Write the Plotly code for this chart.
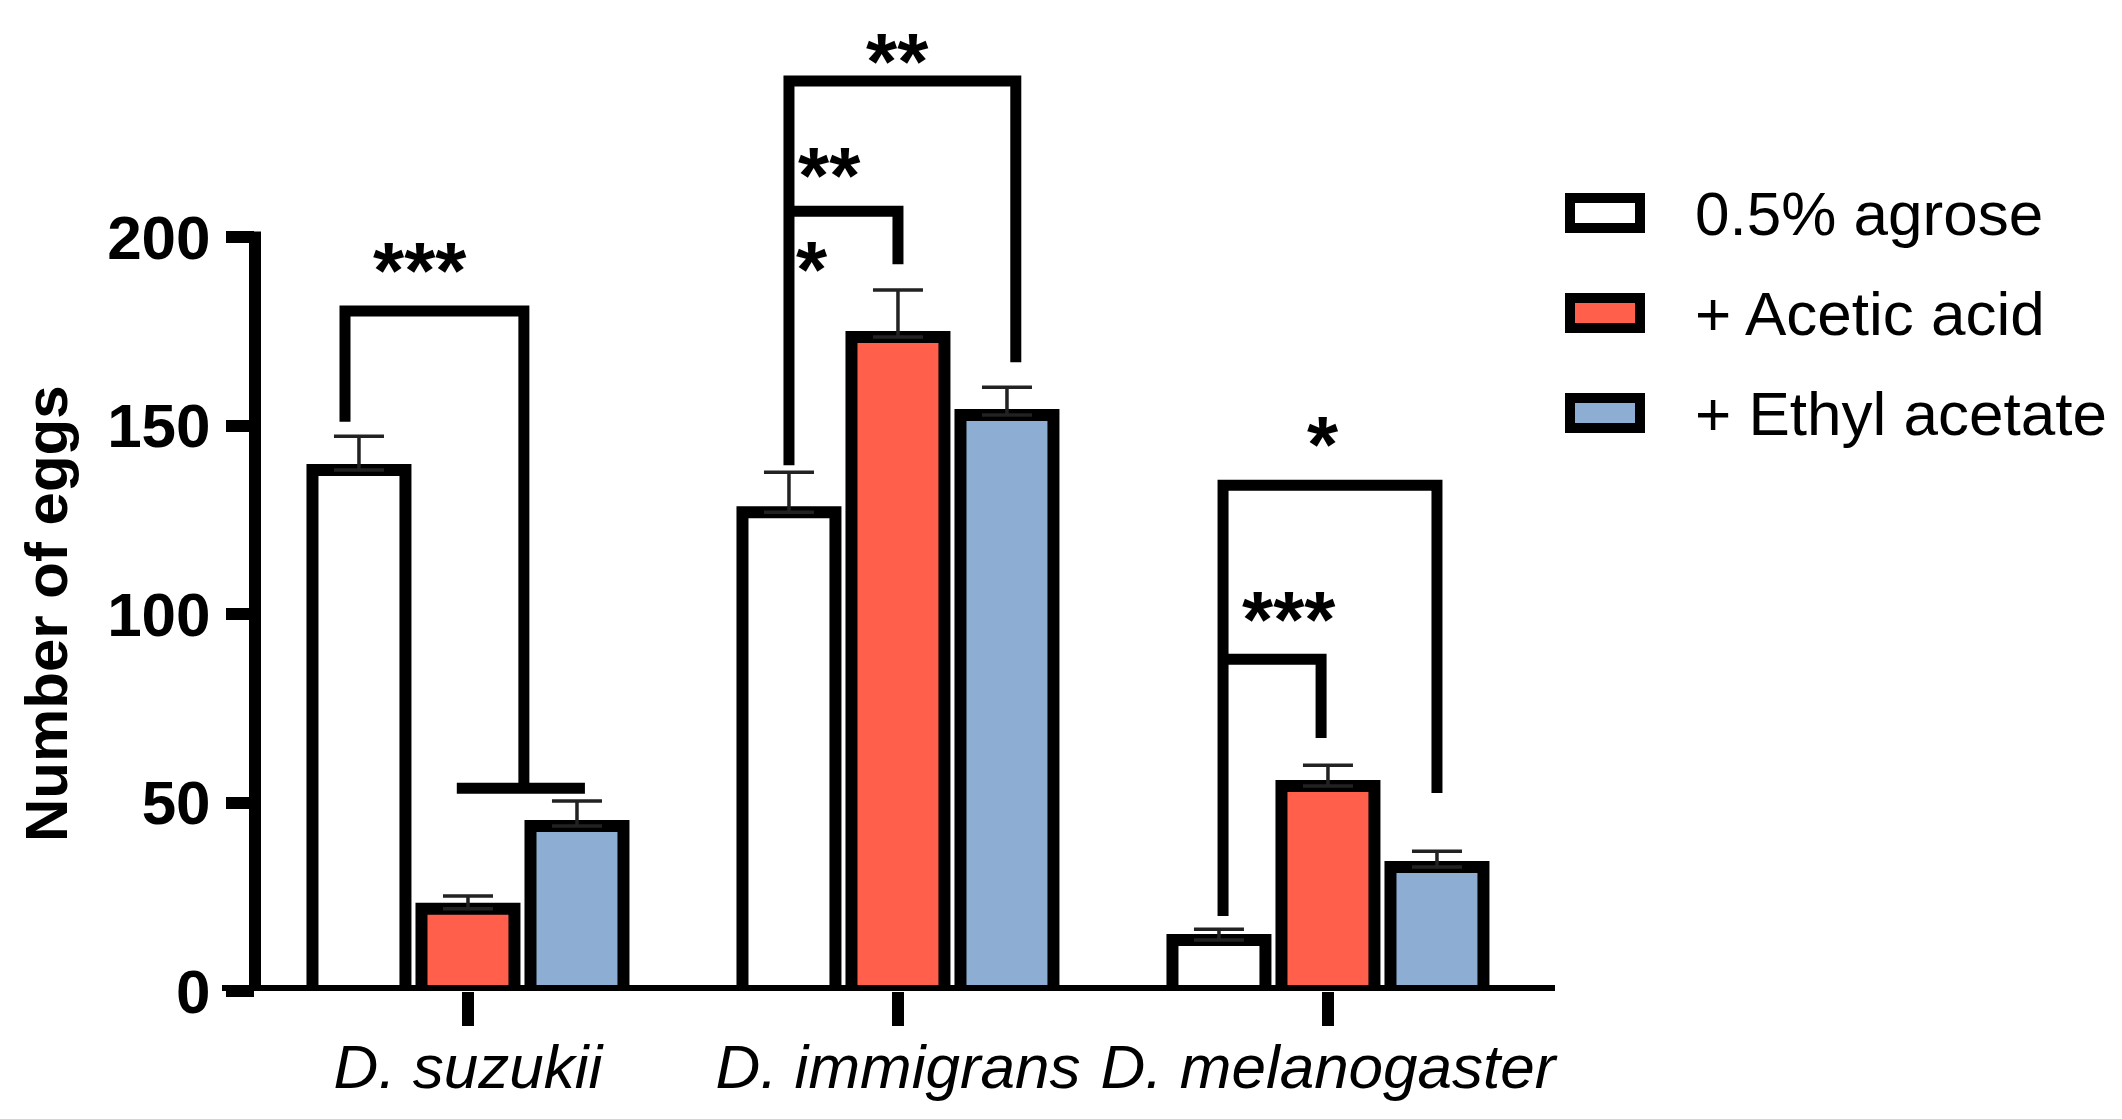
import plotly.graph_objects as go

# Egg counts (mean + SEM) per species and substrate
species = ["D. suzukii", "D. immigrans", "D. melanogaster"]
treatments = ["0.5% agrose", "+ Acetic acid", "+ Ethyl acetate"]
colors = ["#FFFFFF", "#FF5F4B", "#8DADD3"]

agrose = [138.2, 127.0, 13.5]
agrose_sem = [9.0, 10.6, 2.9]
acetic = [21.8, 173.5, 54.4]
acetic_sem = [3.4, 12.5, 5.5]
ethyl = [43.8, 152.8, 32.9]
ethyl_sem = [6.6, 7.4, 4.2]

yticks = [0, 50, 100, 150, 200]

# significance brackets: list of (x, y) vertices in data units, label, label position
brackets = [
    ([(-0.286, 151), (-0.286, 180.4), (0.130, 180.4), (0.130, 53.8)], "***", (-0.112, 193.6)),
    ([(-0.026, 53.8), (0.272, 53.8)], None, None),
    ([(0.7465, 139.5), (0.7465, 241.4), (1.274, 241.4), (1.274, 166.8)], "**", (1.0, 249)),
    ([(0.7465, 206.9), (1.0, 206.9), (1.0, 192.8)], "**", (0.84, 218.8)),
    ([], "*", (0.80, 194)),
    ([(1.756, 19.9), (1.756, 134.2), (2.2535, 134.2), (2.2535, 52.5)], "*", (1.988, 147.5)),
    ([(1.756, 88), (1.984, 88), (1.984, 67.1)], "***", (1.909, 101)),
]

FONT = "Arial, Liberation Sans, sans-serif"
PAGE = 8                      # browser body margin
W, H = 2122 - PAGE, 1119 - PAGE
L0, BOT0 = 255, 991           # plot-area left / bottom in the reference picture
pw, ph = 1300, 980
L, T = L0 - PAGE, BOT0 - ph - PAGE
R, B = W - L - pw, H - T - ph


def px_x(p):
    return (p - L0) / pw


def px_y(p):
    return (BOT0 - p) / ph


fig = go.Figure()
x_idx = list(range(len(species)))
for name, vals, errs, col in zip(treatments, [agrose, acetic, ethyl],
                                 [agrose_sem, acetic_sem, ethyl_sem], colors):
    fig.add_trace(go.Bar(
        x=x_idx, y=vals, name=name,
        marker=dict(color=col, line=dict(color="black", width=12)),
        error_y=dict(type="data", array=errs, arrayminus=[0] * len(errs),
                     symmetric=False, color="#222222", thickness=3.5, width=25),
        showlegend=False,
    ))

shapes = []
annotations = []

# axis lines
shapes.append(dict(type="line", xref="paper", yref="y", x0=0, x1=0, y0=0, y1=201.5,
                   line=dict(color="black", width=12)))
shapes.append(dict(type="line", xref="paper", yref="y", x0=px_x(222), x1=1, y0=0, y1=0,
                   line=dict(color="black", width=12)))

for pts, label, pos in brackets:
    if pts:
        path = "M " + " L ".join(f"{x},{y}" for x, y in pts)
        shapes.append(dict(type="path", xref="x", yref="y", path=path,
                           line=dict(color="black", width=11)))
    if label:
        annotations.append(dict(x=pos[0], y=pos[1] - 2.5, xref="x", yref="y", text=label,
                                showarrow=False, xanchor="center", yanchor="middle",
                                font=dict(family=FONT, size=80, color="black", weight="bold")))

# legend drawn by hand to match the wide swatches
for i, (name, col) in enumerate(zip(treatments, colors)):
    cy = 213 + 100 * i
    shapes.append(dict(type="rect", xref="paper", yref="paper",
                       x0=px_x(1570), x1=px_x(1640), y0=px_y(cy - 15), y1=px_y(cy + 15),
                       fillcolor=col, line=dict(color="black", width=10)))
    annotations.append(dict(x=px_x(1693), y=px_y(cy), xref="paper", yref="paper", text=name,
                            showarrow=False, xanchor="left", yanchor="middle",
                            font=dict(family=FONT, size=62, color="black")))

# y-axis title centred on the 0-200 span
annotations.append(dict(x=px_x(46), y=100, xref="paper", yref="y", text="Number of eggs",
                        textangle=-90, showarrow=False, xanchor="center", yanchor="middle",
                        font=dict(family=FONT, size=60, color="black", weight="bold")))

fig.update_layout(
    width=W, height=H,
    margin=dict(l=L, r=R, t=T, b=B, autoexpand=False),
    plot_bgcolor="white", paper_bgcolor="white",
    barmode="group", bargap=0.2395, bargroupgap=0.147,
    shapes=shapes, annotations=annotations,
    xaxis=dict(range=[-0.4953, 2.528], tickvals=x_idx,
               ticktext=[f"<i>{s}</i>" for s in species],
               showline=False, showgrid=False, zeroline=False,
               ticks="outside", ticklen=34, tickwidth=12, tickcolor="black",
               ticklabelstandoff=-12,
               tickfont=dict(family=FONT, size=62, color="black")),
    yaxis=dict(range=[0, 260], tickvals=yticks, showline=False, showgrid=False,
               zeroline=False, ticks="outside", ticklen=28, tickwidth=12,
               tickcolor="black", ticklabelstandoff=3,
               tickfont=dict(family=FONT, size=62, color="black", weight="bold")),
)

fig.write_html("out.html")
